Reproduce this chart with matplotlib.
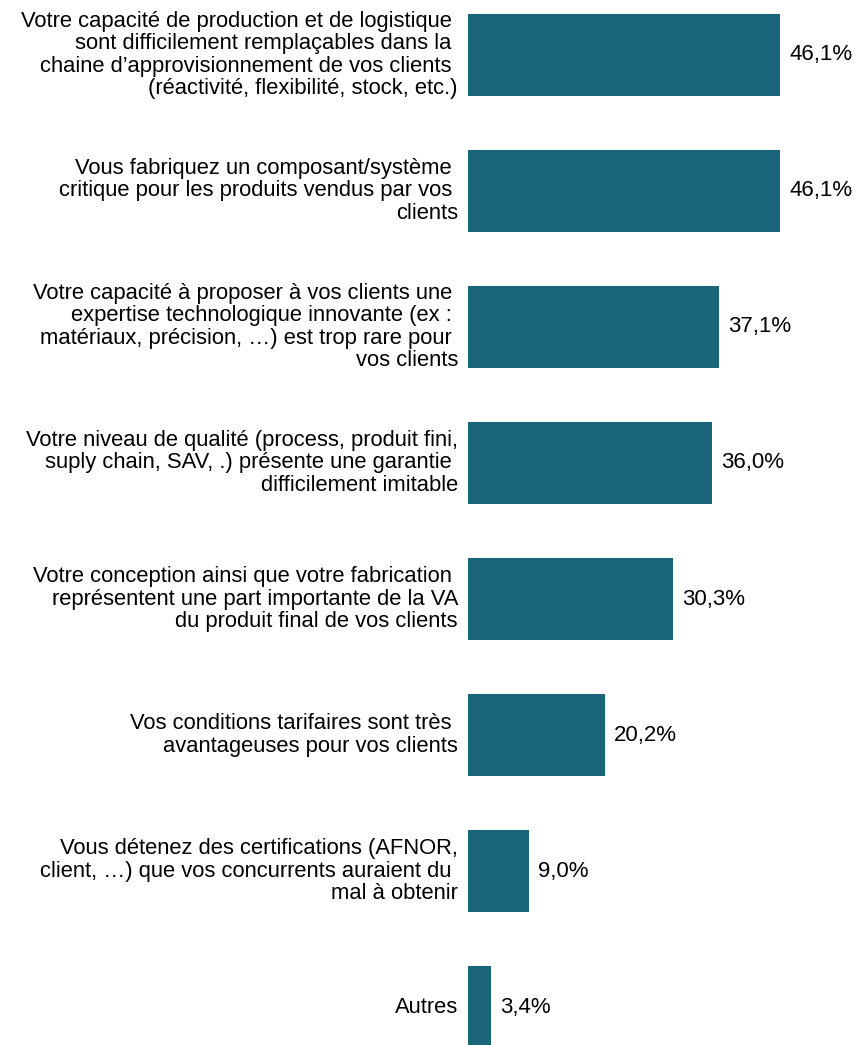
import matplotlib
matplotlib.use("Agg")
import matplotlib.pyplot as plt

plt.rcParams["font.family"] = ["Liberation Sans", "DejaVu Sans"]

categories = [
    "Votre capacité de production et de logistique \nsont difficilement remplaçables dans la \nchaine d’approvisionnement de vos clients \n(réactivité, flexibilité, stock, etc.)",
    "Vous fabriquez un composant/système \ncritique pour les produits vendus par vos \nclients",
    "Votre capacité à proposer à vos clients une \nexpertise technologique innovante (ex : \nmatériaux, précision, …) est trop rare pour \nvos clients",
    "Votre niveau de qualité (process, produit fini,\nsuply chain, SAV, .) présente une garantie \ndifficilement imitable",
    "Votre conception ainsi que votre fabrication \nreprésentent une part importante de la VA\ndu produit final de vos clients",
    "Vos conditions tarifaires sont très \navantageuses pour vos clients",
    "Vous détenez des certifications (AFNOR,\nclient, …) que vos concurrents auraient du \nmal à obtenir",
    "Autres",
]
values = [46.1, 46.1, 37.1, 36.0, 30.3, 20.2, 9.0, 3.4]

bar_color = "#1b657b"

W, H = 864, 1045
fig = plt.figure(figsize=(W / 100, H / 100), dpi=100)
ax_left, ax_right = 468, 806.5
ax = fig.add_axes([ax_left / W, 0.0, (ax_right - ax_left) / W, 1.0])

pos = list(range(len(values)))
ax.barh(pos, values, height=0.6, color=bar_color)

ax.set_xlim(0, 50)
ax.set_ylim(7.279, -0.404)

for y, v in zip(pos, values):
    ax.annotate(f"{v:.1f}%".replace(".", ","), xy=(v, y), xytext=(9, 0),
                textcoords="offset pixels", va="center", ha="left", fontsize=16)

for y, lab in zip(pos, categories):
    ax.annotate(lab, xy=(0, y), xytext=(-10, 0), textcoords="offset pixels",
                va="center", ha="right", multialignment="right",
                fontsize=15.8, linespacing=1.07)

ax.set_xticks([])
ax.set_yticks([])
for s in ax.spines.values():
    s.set_visible(False)

fig.savefig("out.png", dpi=100, facecolor="white")
